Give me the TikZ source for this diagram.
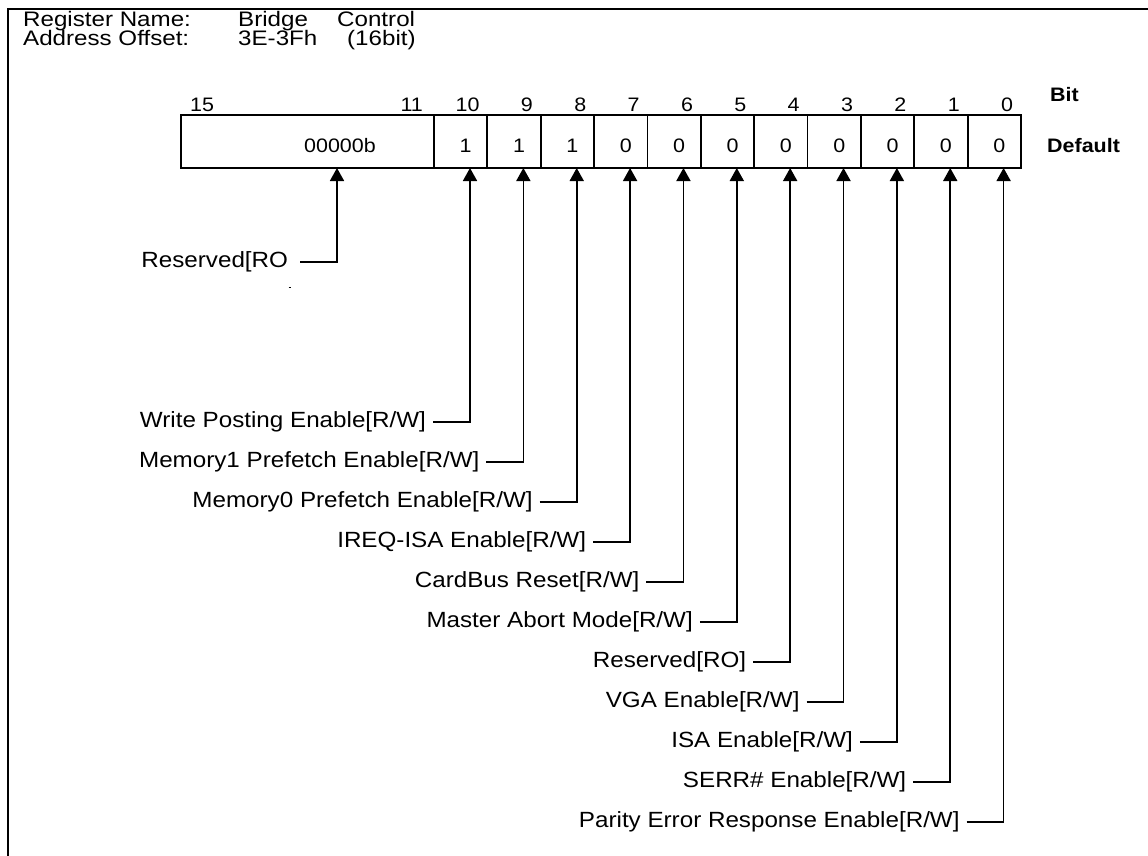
\documentclass[tikz,border=0pt]{standalone}
\usepackage{fontspec}
\setmainfont{Liberation Sans}[FakeStretch=1.1]
\newfontfamily\hdrfont{Liberation Sans}[FakeStretch=1.15]
\usetikzlibrary{arrows.meta}
\begin{document}
\begin{tikzpicture}[x=1pt,y=-1pt,
  lbl/.style={font=\fontsize{22}{26}\selectfont, anchor=east, inner xsep=7pt, inner ysep=0pt, outer sep=0pt, text height=16pt, text depth=4.6pt},
  hdr/.style={font=\hdrfont\fontsize{21}{24}\selectfont, anchor=base west, inner sep=0pt},
  dig/.style={font=\fontsize{19.5}{22}\selectfont, inner sep=0pt},
  bld/.style={font=\fontsize{19.5}{23}\selectfont\bfseries, anchor=base west, inner sep=0pt},
  conn/.style={line width=1.7pt, -{Triangle[length=13pt,width=14pt]}},
  boxline/.style={line width=1.8pt}]
\useasboundingbox (0,0) rectangle (1148,856);
% frame
\draw[line width=2pt] (8.3,860) -- (8.3,9.3) -- (1152,9.3);
% header
\node[hdr] (h1) at (23,26.5) {Register Name:};
\node[hdr] (h2) at (238,26.5) {Bridge};
\node[hdr] (h3) at (337,26.5) {Control};
\node[hdr] (h4) at (23,45.5) {Address Offset:};
\node[hdr] (h5) at (238,45.5) {3E-3Fh};
\node[hdr] (h6) at (347,45.5) {(16bit)};
% register box
\draw[boxline] (181,115) rectangle (1021,168);
\foreach \k in {0,...,10} \draw[boxline] ({434+53.36*\k},115) -- ({434+53.36*\k},168);
\node[bld] (bit) at (1050,102) {Bit};
\node[bld] (def) at (1047,152) {Default};
% reserved field 15:11
\node[dig, anchor=base] (v15) at (340,152) {00000b};
\node[dig, anchor=base west] (n15) at (190,112) {15};
\node[dig, anchor=base east] (n11) at (423,112) {11};
\coordinate (a15) at (337,168);
\node[lbl, inner xsep=12pt] (lres) at (300,262) {Reserved[RO};
\draw[conn] (lres.east) -| (a15);
\draw[line width=1pt] (288.5,287) -- (291,287);
% single bits
\foreach \i/\v/\t in {10/1/{Write Posting Enable[R/W]},
  9/1/{Memory1 Prefetch Enable[R/W]},
  8/1/{Memory0 Prefetch Enable[R/W]},
  7/0/{IREQ-ISA Enable[R/W]},
  6/0/{CardBus Reset[R/W]},
  5/0/{Master Abort Mode[R/W]},
  4/0/{Reserved[RO]},
  3/0/{VGA Enable[R/W]},
  2/0/{ISA Enable[R/W]},
  1/0/{SERR\# Enable[R/W]},
  0/0/{Parity Error Response Enable[R/W]}}{
  \pgfmathsetmacro\xl{434+53.36*(10-\i)}
  \pgfmathsetmacro\xa{\xl+36}
  \pgfmathsetmacro\yy{422+40*(10-\i)}
  \node[dig, anchor=base] (v\i) at (\xl+31.7,152) {\v};
  \node[dig, anchor=base east] (n\i) at (\xl+45.7,112) {\i};
  \coordinate (a\i) at (\xa,168);
  \node[lbl] (l\i) at (\xa-37,\yy) {\t};
  \draw[conn] (l\i.east) -| (a\i);
}
\end{tikzpicture}
\end{document}
